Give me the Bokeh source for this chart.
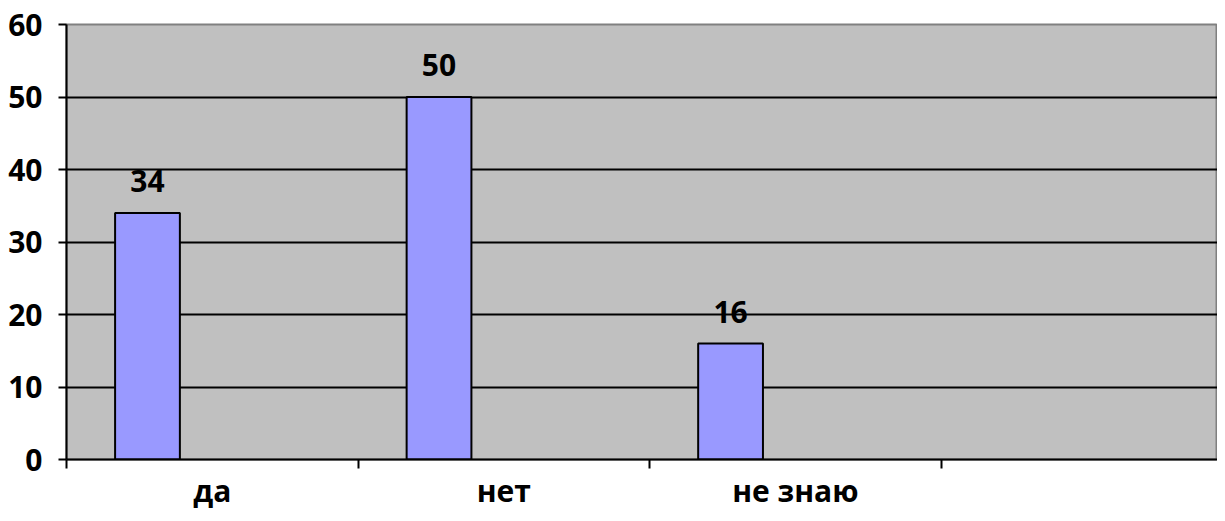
import numpy as np
from bokeh.plotting import figure
from bokeh.models import Range1d, FixedTicker, ColumnDataSource
from bokeh.core.properties import value
from bokeh.embed import file_html
from bokeh.resources import INLINE

categories = ["да", "нет", "не знаю", ""]
values = [34, 50, 16]
y_ticks = [0, 10, 20, 30, 40, 50, 60]

n_series = 3
gap = 1.5
bar_w = 1.0 / (n_series + gap)
first_offset = gap / 2 * bar_w + bar_w / 2

idx = np.arange(len(values))
src = ColumnDataSource(dict(
    x=idx + first_offset,
    top=values,
    label=[str(v) for v in values],
))
cat_centers = [float(c) for c in np.arange(len(categories)) + 0.5]

FONT = "Open Sans"
FS = "30px"

p = figure(width=1217, height=513, output_backend="svg", toolbar_location=None,
           x_range=Range1d(0, 3.948), y_range=Range1d(0, 60),
           min_border_left=66, min_border_right=0, min_border_top=24, min_border_bottom=0)
p.background_fill_color = "#C0C0C0"
p.border_fill_color = "white"
p.outline_line_color = "#808080"
p.outline_line_width = 2

p.vbar(x="x", top="top", bottom=0, width=bar_w, source=src,
       fill_color="#9999FF", line_color="black", line_width=2)

p.text(x="x", y="top", text="label", source=src, text_align="center",
       text_baseline="middle", y_offset=-32, text_font=value(FONT),
       text_font_style="bold", text_font_size=FS, text_color="black")

# x axis
p.xaxis.ticker = FixedTicker(ticks=cat_centers, minor_ticks=list(range(len(categories))))
p.xaxis.major_label_overrides = {c: lab for c, lab in zip(cat_centers, categories)}
p.xaxis.major_tick_out = 0
p.xaxis.major_tick_in = 0
p.xaxis.minor_tick_out = 9
p.xaxis.minor_tick_in = 0
p.xaxis.minor_tick_line_color = "black"
p.xaxis.minor_tick_line_width = 2
p.xaxis.axis_line_color = "black"
p.xaxis.axis_line_width = 2
p.xaxis.major_label_standoff = 1
p.xaxis.major_label_text_font = FONT
p.xaxis.major_label_text_font_style = "bold"
p.xaxis.major_label_text_font_size = FS
p.xaxis.major_label_text_color = "black"

# y axis
p.yaxis.ticker = FixedTicker(ticks=y_ticks)
p.yaxis.major_tick_out = 8
p.yaxis.major_tick_in = 0
p.yaxis.minor_tick_line_color = None
p.yaxis.major_tick_line_color = "black"
p.yaxis.major_tick_line_width = 2
p.yaxis.axis_line_color = "black"
p.yaxis.axis_line_width = 2
p.yaxis.major_label_standoff = 16
p.yaxis.major_label_text_font = FONT
p.yaxis.major_label_text_font_style = "bold"
p.yaxis.major_label_text_font_size = FS
p.yaxis.major_label_text_color = "black"

p.xgrid.grid_line_color = None
p.ygrid.ticker = FixedTicker(ticks=y_ticks[1:-1])
p.ygrid.grid_line_color = "black"
p.ygrid.grid_line_width = 2

open("out.html", "w").write(file_html(p, INLINE))
